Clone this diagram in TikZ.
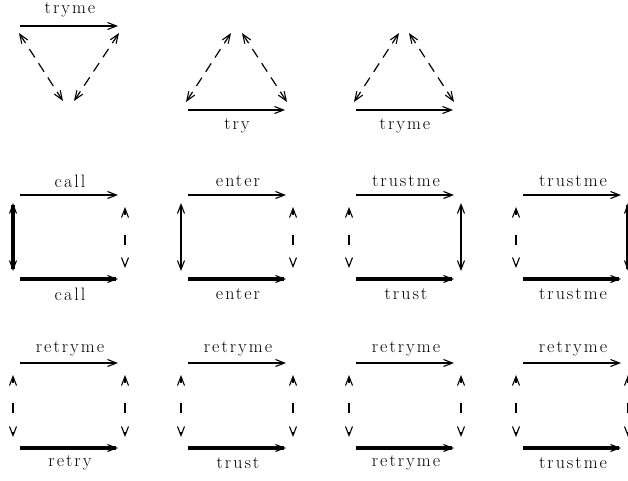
\documentclass[tikz,border=0pt]{standalone}
\usepackage{fontspec}
\setmainfont{Latin Modern Roman}[LetterSpace=11]
\usetikzlibrary{arrows.meta}
\tikzset{
  >={Straight Barb[length=9pt,width=7pt,line width=1.1pt 0]},
  topln/.style={line width=2.2pt,->},
  botln/.style={line width=3.2pt,->},
  triln/.style={line width=2.5pt,->},
  dia/.style={line width=1.2pt,<->,dash pattern=on 10pt off 7pt},
  vdash/.style={line width=1.2pt,<->,dash pattern=on 6pt off 19.5pt on 10pt off 19.5pt on 30pt},
  vthick/.style={line width=3.2pt,<->},
  vmed/.style={line width=2.2pt,<->},
  lab/.style={font=\fontsize{18}{20}\selectfont, inner sep=0pt}
}
% #1 name, #2 x0, #3 yT, #4 yB, #5 top label, #6 bottom label, #7 left style, #8 right style
\newcommand\mkbox[8]{%
  \coordinate (#1tl) at (#2,#3);
  \coordinate (#1tr) at (#2+98,#3);
  \coordinate (#1bl) at (#2,#4);
  \coordinate (#1br) at (#2+98,#4);
  \draw[topln] (#1tl) -- (#1tr);
  \draw[botln] (#1bl) -- (#1br);
  \node[lab] (#1tlab) at (#2+50,#3-14) {#5};
  \node[lab] (#1blab) at (#2+50,#4+15) {#6};
  \csname mkvert#7\endcsname{#1l}{#2-7}{#3}{#4}
  \csname mkvert#8\endcsname{#1r}{#2+105}{#3}{#4}
}
\newcommand\mkvertd[4]{%
  \coordinate (#1a) at (#2,#3+12);
  \coordinate (#1b) at (#2,#4-11);
  \draw[vdash] (#1a) -- (#1b);
}
\newcommand\mkvertt[4]{%
  \coordinate (#1a) at (#2,#3+8);
  \coordinate (#1b) at (#2,#4-8);
  \draw[vthick] (#1a) -- (#1b);
}
\newcommand\mkvertm[4]{%
  \coordinate (#1a) at (#2,#3+8);
  \coordinate (#1b) at (#2,#4-8);
  \draw[vmed] (#1a) -- (#1b);
}
\begin{document}
\begin{tikzpicture}[x=1pt,y=-1pt]
\useasboundingbox (0,0) rectangle (628,480);
% ---- row 1: triangles
\coordinate (t1a) at (20,26);
\coordinate (t1b) at (118,26);
\draw[triln] (t1a) -- (t1b);
\node[lab] (t1lab) at (70,10) {tryme};
\coordinate (t1p) at (19,33);
\coordinate (t1q) at (63,101);
\coordinate (t1r) at (119,33);
\coordinate (t1s) at (74,101);
\draw[dia] (t1p) -- (t1q);
\draw[dia] (t1r) -- (t1s);

\coordinate (t2a) at (188,110);
\coordinate (t2b) at (285,110);
\draw[triln] (t2a) -- (t2b);
\node[lab] (t2lab) at (237,126) {try};
\coordinate (t2p) at (186,102);
\coordinate (t2q) at (231,33);
\coordinate (t2r) at (242,33);
\coordinate (t2s) at (287,102);
\draw[dia] (t2p) -- (t2q);
\draw[dia] (t2r) -- (t2s);

\coordinate (t3a) at (356,110);
\coordinate (t3b) at (453,110);
\draw[triln] (t3a) -- (t3b);
\node[lab] (t3lab) at (405,126) {tryme};
\coordinate (t3p) at (354,102);
\coordinate (t3q) at (399,33);
\coordinate (t3r) at (409,33);
\coordinate (t3s) at (454,102);
\draw[dia] (t3p) -- (t3q);
\draw[dia] (t3r) -- (t3s);
% ---- row 2
\mkbox{ba}{20}{195}{279}{call}{call}{t}{d}
\mkbox{bb}{188}{195}{279}{enter}{enter}{m}{d}
\mkbox{bc}{356}{195}{279}{trustme}{trust}{d}{m}
\mkbox{bd}{523}{195}{279}{trustme}{trustme}{d}{t}
% ---- row 3
\mkbox{ca}{20}{363}{448}{retryme}{retry}{d}{d}
\mkbox{cb}{188}{363}{448}{retryme}{trust}{d}{d}
\mkbox{cc}{356}{363}{448}{retryme}{retryme}{d}{d}
\mkbox{cd}{523}{363}{448}{retryme}{trustme}{d}{d}
\end{tikzpicture}
\end{document}
